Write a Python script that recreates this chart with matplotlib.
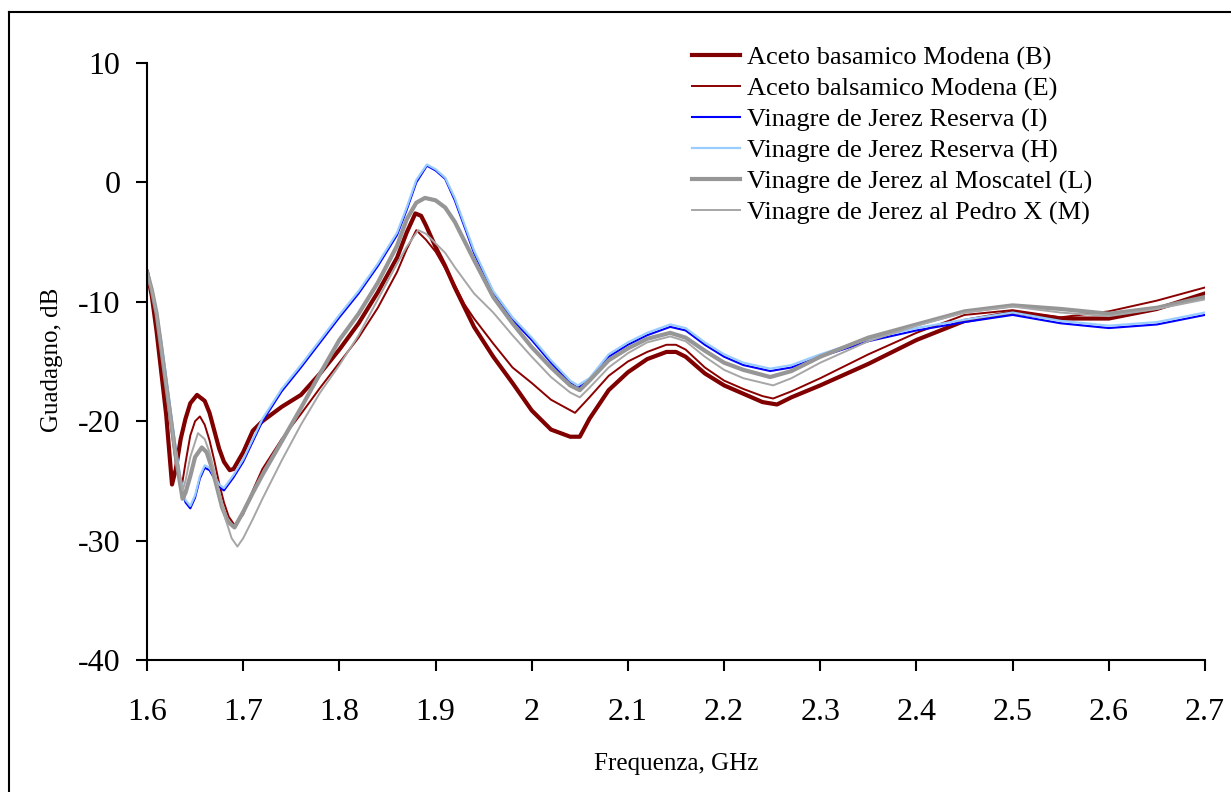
import matplotlib
matplotlib.use("Agg")
import matplotlib.pyplot as plt
from matplotlib.lines import Line2D

plt.rcParams['font.family'] = ['Liberation Serif', 'DejaVu Serif']

# ---------------- data (frequency GHz, gain dB) ----------------
series_B = [(1.600,-7.5),(1.605,-9.5),(1.610,-12.5),(1.615,-16.0),(1.620,-19.5),(1.626,-25.3),(1.630,-24.0),
            (1.635,-21.5),(1.640,-19.8),(1.645,-18.5),(1.652,-17.8),(1.660,-18.3),(1.665,-19.3),(1.670,-20.8),
            (1.675,-22.3),(1.680,-23.4),(1.686,-24.1),(1.690,-24.0),(1.700,-22.6),(1.710,-20.8),(1.720,-20.0),
            (1.740,-18.8),(1.760,-17.8),(1.780,-16.0),(1.800,-14.0),(1.820,-11.8),(1.840,-9.2),(1.860,-6.3),
            (1.870,-4.2),(1.879,-2.6),(1.885,-2.8),(1.890,-3.6),(1.900,-5.4),(1.910,-7.0),(1.920,-8.8),
            (1.940,-12.1),(1.960,-14.6),(1.980,-16.8),(2.000,-19.1),(2.020,-20.7),(2.040,-21.3),(2.050,-21.3),
            (2.060,-19.8),(2.080,-17.4),(2.100,-15.9),(2.120,-14.8),(2.140,-14.2),(2.150,-14.2),(2.160,-14.6),
            (2.180,-16.0),(2.200,-17.0),(2.220,-17.7),(2.240,-18.4),(2.255,-18.6),(2.270,-18.0),(2.300,-17.0),
            (2.350,-15.2),(2.400,-13.2),(2.450,-11.6),(2.500,-10.9),(2.550,-11.4),(2.600,-11.4),(2.650,-10.6),
            (2.700,-9.3)]

series_E = [(1.600,-7.5),(1.605,-9.2),(1.610,-11.5),(1.615,-14.5),(1.620,-17.5),(1.625,-20.5),(1.630,-23.5),
            (1.636,-25.5),(1.640,-23.5),(1.645,-21.2),(1.650,-20.0),(1.655,-19.6),(1.660,-20.3),(1.665,-21.6),
            (1.670,-23.3),(1.675,-25.2),(1.680,-26.8),(1.685,-28.0),(1.691,-28.7),(1.700,-27.8),(1.710,-25.8),
            (1.720,-24.0),(1.740,-21.5),(1.760,-19.4),(1.780,-17.2),(1.800,-15.1),(1.820,-13.0),(1.840,-10.5),
            (1.860,-7.5),(1.870,-5.6),(1.880,-4.0),(1.890,-4.8),(1.900,-5.8),(1.910,-7.2),(1.920,-8.6),
            (1.930,-10.2),(1.940,-11.4),(1.960,-13.5),(1.980,-15.5),(2.000,-16.8),(2.020,-18.2),(2.045,-19.3),
            (2.060,-18.0),(2.080,-16.2),(2.100,-15.0),(2.120,-14.2),(2.140,-13.6),(2.150,-13.6),(2.160,-14.0),
            (2.180,-15.5),(2.200,-16.6),(2.220,-17.3),(2.240,-17.9),(2.251,-18.1),(2.270,-17.5),(2.300,-16.4),
            (2.350,-14.4),(2.400,-12.6),(2.450,-11.1),(2.500,-10.7),(2.550,-11.3),(2.600,-10.8),(2.650,-9.9),
            (2.700,-8.8)]

series_I = [(1.600,-7.5),(1.605,-9.0),(1.610,-11.0),(1.615,-13.5),(1.620,-16.5),(1.625,-19.5),(1.630,-22.5),
            (1.635,-25.0),(1.640,-26.8),(1.645,-27.3),(1.650,-26.4),(1.655,-24.8),(1.660,-23.9),(1.665,-24.1),
            (1.670,-24.8),(1.675,-25.5),(1.680,-25.8),(1.690,-24.7),(1.700,-23.4),(1.720,-20.0),(1.740,-17.5),
            (1.760,-15.5),(1.780,-13.4),(1.800,-11.3),(1.820,-9.3),(1.840,-7.0),(1.860,-4.4),(1.870,-2.3),
            (1.880,0.0),(1.891,1.4),(1.900,1.0),(1.910,0.3),(1.920,-1.5),(1.940,-5.9),(1.960,-9.3),
            (1.980,-11.5),(2.000,-13.2),(2.020,-15.1),(2.040,-16.8),(2.048,-17.2),(2.060,-16.6),(2.080,-14.6),
            (2.100,-13.6),(2.120,-12.8),(2.144,-12.1),(2.160,-12.4),(2.180,-13.6),(2.200,-14.6),(2.220,-15.3),
            (2.248,-15.8),(2.270,-15.5),(2.300,-14.6),(2.350,-13.3),(2.400,-12.4),(2.450,-11.7),(2.500,-11.1),
            (2.550,-11.8),(2.600,-12.2),(2.650,-11.9),(2.700,-11.1)]

series_H = [(1.600,-7.4),(1.605,-8.9),(1.610,-10.8),(1.615,-13.3),(1.620,-16.3),(1.625,-19.3),(1.630,-22.3),
            (1.635,-24.8),(1.640,-26.6),(1.645,-27.1),(1.650,-26.2),(1.655,-24.6),(1.660,-23.7),(1.665,-23.9),
            (1.670,-24.6),(1.675,-25.3),(1.680,-25.6),(1.690,-24.5),(1.700,-23.2),(1.720,-19.8),(1.740,-17.3),
            (1.760,-15.3),(1.780,-13.2),(1.800,-11.1),(1.820,-9.1),(1.840,-6.8),(1.860,-4.2),(1.870,-2.1),
            (1.880,0.2),(1.891,1.5),(1.900,1.1),(1.910,0.4),(1.920,-1.3),(1.940,-5.7),(1.960,-9.1),
            (1.980,-11.3),(2.000,-13.0),(2.020,-14.9),(2.040,-16.6),(2.048,-17.0),(2.060,-16.4),(2.080,-14.4),
            (2.100,-13.4),(2.120,-12.6),(2.144,-11.9),(2.160,-12.2),(2.180,-13.4),(2.200,-14.4),(2.220,-15.1),
            (2.248,-15.6),(2.270,-15.3),(2.300,-14.4),(2.350,-13.1),(2.400,-12.2),(2.450,-11.5),(2.500,-10.9),
            (2.550,-11.6),(2.600,-12.0),(2.650,-11.7),(2.700,-10.9)]

series_L = [(1.600,-7.5),(1.605,-9.0),(1.610,-11.0),(1.615,-14.0),(1.620,-17.0),(1.625,-20.0),(1.630,-23.0),
            (1.637,-26.5),(1.640,-26.0),(1.645,-24.6),(1.650,-23.0),(1.657,-22.2),(1.662,-22.6),(1.667,-23.8),
            (1.672,-25.3),(1.678,-27.2),(1.684,-28.4),(1.691,-28.9),(1.700,-27.6),(1.710,-26.0),(1.720,-24.5),
            (1.740,-21.7),(1.760,-18.9),(1.780,-16.0),(1.800,-13.2),(1.820,-11.0),(1.840,-8.4),(1.860,-5.3),
            (1.870,-3.1),(1.880,-1.7),(1.889,-1.3),(1.900,-1.5),(1.910,-2.1),(1.920,-3.3),(1.940,-6.5),
            (1.960,-9.6),(1.980,-11.8),(2.000,-13.8),(2.020,-15.5),(2.040,-17.0),(2.050,-17.4),(2.060,-16.6),
            (2.080,-14.9),(2.100,-13.9),(2.120,-13.1),(2.144,-12.6),(2.160,-13.0),(2.180,-14.1),(2.200,-15.1),
            (2.220,-15.7),(2.248,-16.3),(2.270,-15.8),(2.300,-14.6),(2.350,-13.0),(2.400,-11.9),(2.450,-10.8),
            (2.500,-10.3),(2.550,-10.6),(2.600,-11.0),(2.650,-10.5),(2.700,-9.6)]

series_M = [(1.600,-7.5),(1.605,-9.0),(1.610,-11.0),(1.615,-14.0),(1.620,-17.0),(1.625,-20.0),(1.630,-23.0),
            (1.637,-25.8),(1.640,-25.0),(1.645,-23.0),(1.653,-21.0),(1.660,-21.5),(1.665,-22.6),(1.670,-24.2),
            (1.676,-26.3),(1.682,-28.3),(1.688,-29.8),(1.694,-30.5),(1.700,-29.8),(1.710,-28.2),(1.720,-26.5),
            (1.740,-23.3),(1.760,-20.3),(1.780,-17.6),(1.800,-15.3),(1.820,-12.8),(1.840,-9.8),(1.860,-6.8),
            (1.870,-5.4),(1.882,-4.0),(1.890,-4.3),(1.900,-5.1),(1.910,-5.9),(1.920,-7.1),(1.940,-9.3),
            (1.960,-10.9),(1.980,-12.8),(2.000,-14.6),(2.020,-16.3),(2.040,-17.6),(2.050,-18.0),(2.060,-17.2),
            (2.080,-15.5),(2.100,-14.3),(2.120,-13.4),(2.144,-12.9),(2.160,-13.3),(2.180,-14.6),(2.200,-15.7),
            (2.220,-16.4),(2.251,-17.0),(2.270,-16.4),(2.300,-15.1),(2.350,-13.3),(2.400,-12.0),(2.450,-10.9),
            (2.500,-10.4),(2.550,-10.9),(2.600,-11.2),(2.650,-10.6),(2.700,-9.8)]

labels = ["Aceto basamico Modena (B)", "Aceto balsamico Modena (E)",
          "Vinagre de Jerez Reserva (I)", "Vinagre de Jerez Reserva (H)",
          "Vinagre de Jerez al Moscatel (L)", "Vinagre de Jerez al Pedro X (M)"]
x_ticks = [1.6, 1.7, 1.8, 1.9, 2.0, 2.1, 2.2, 2.3, 2.4, 2.5, 2.6, 2.7]
y_ticks = [-40, -30, -20, -10, 0, 10]

# ---------------- styles ----------------
all_series = [series_B, series_E, series_I, series_H, series_L, series_M]
colors = ["#800000", "#8B0000", "#0000FF", "#99CCFF", "#969696", "#A6A6A6"]
widths = [3.0, 1.4, 1.5, 1.6, 3.0, 1.4]

W, H = 1231, 792
fig = plt.figure(figsize=(W / 100, H / 100), dpi=100)
ax = fig.add_axes([147 / W, 1 - 660 / H, (1205 - 147) / W, (660 - 63) / H])

for data, c, lw, lab in zip(all_series, colors, widths, labels):
    xs = [p[0] for p in data]
    ys = [p[1] for p in data]
    ax.plot(xs, ys, color=c, lw=lw, label=lab, solid_joinstyle='round')

ax.set_xlim(1.6, 2.7)
ax.set_ylim(-40, 10)
ax.set_xticks(x_ticks)
ax.set_xticklabels([f"{v:g}" for v in x_ticks])
ax.set_yticks(y_ticks)
ax.set_yticklabels([f"{v:g}" for v in y_ticks])
for s in ("top", "right"):
    ax.spines[s].set_visible(False)
for s in ("left", "bottom"):
    ax.spines[s].set_linewidth(1.5)
ax.tick_params(axis='both', direction='out', length=8, width=1.5, labelsize=23, colors='black')
ax.tick_params(axis='x', pad=19)
ax.tick_params(axis='y', pad=11)

fig.text(676 / W, 1 - 764 / H, "Frequenza, GHz", fontsize=18, ha='center', va='center')
fig.text(52 / W, 1 - 360 / H, "Guadagno, dB", fontsize=18, ha='center', va='center', rotation=90)

fig.legend(loc='upper left', bbox_to_anchor=(692 / W, 1 - 46 / H), frameon=False, fontsize=19,
           handlelength=1.8, handletextpad=0.27, labelspacing=0.27, borderpad=0, borderaxespad=0)

# outer frame (left and top edges visible)
fig.add_artist(Line2D([9 / W, 9 / W], [0, 1 - 12 / H], color='black', lw=1.5, transform=fig.transFigure))
fig.add_artist(Line2D([9 / W, 1], [1 - 12 / H, 1 - 12 / H], color='black', lw=1.5, transform=fig.transFigure))

fig.savefig("out.png", dpi=100)
